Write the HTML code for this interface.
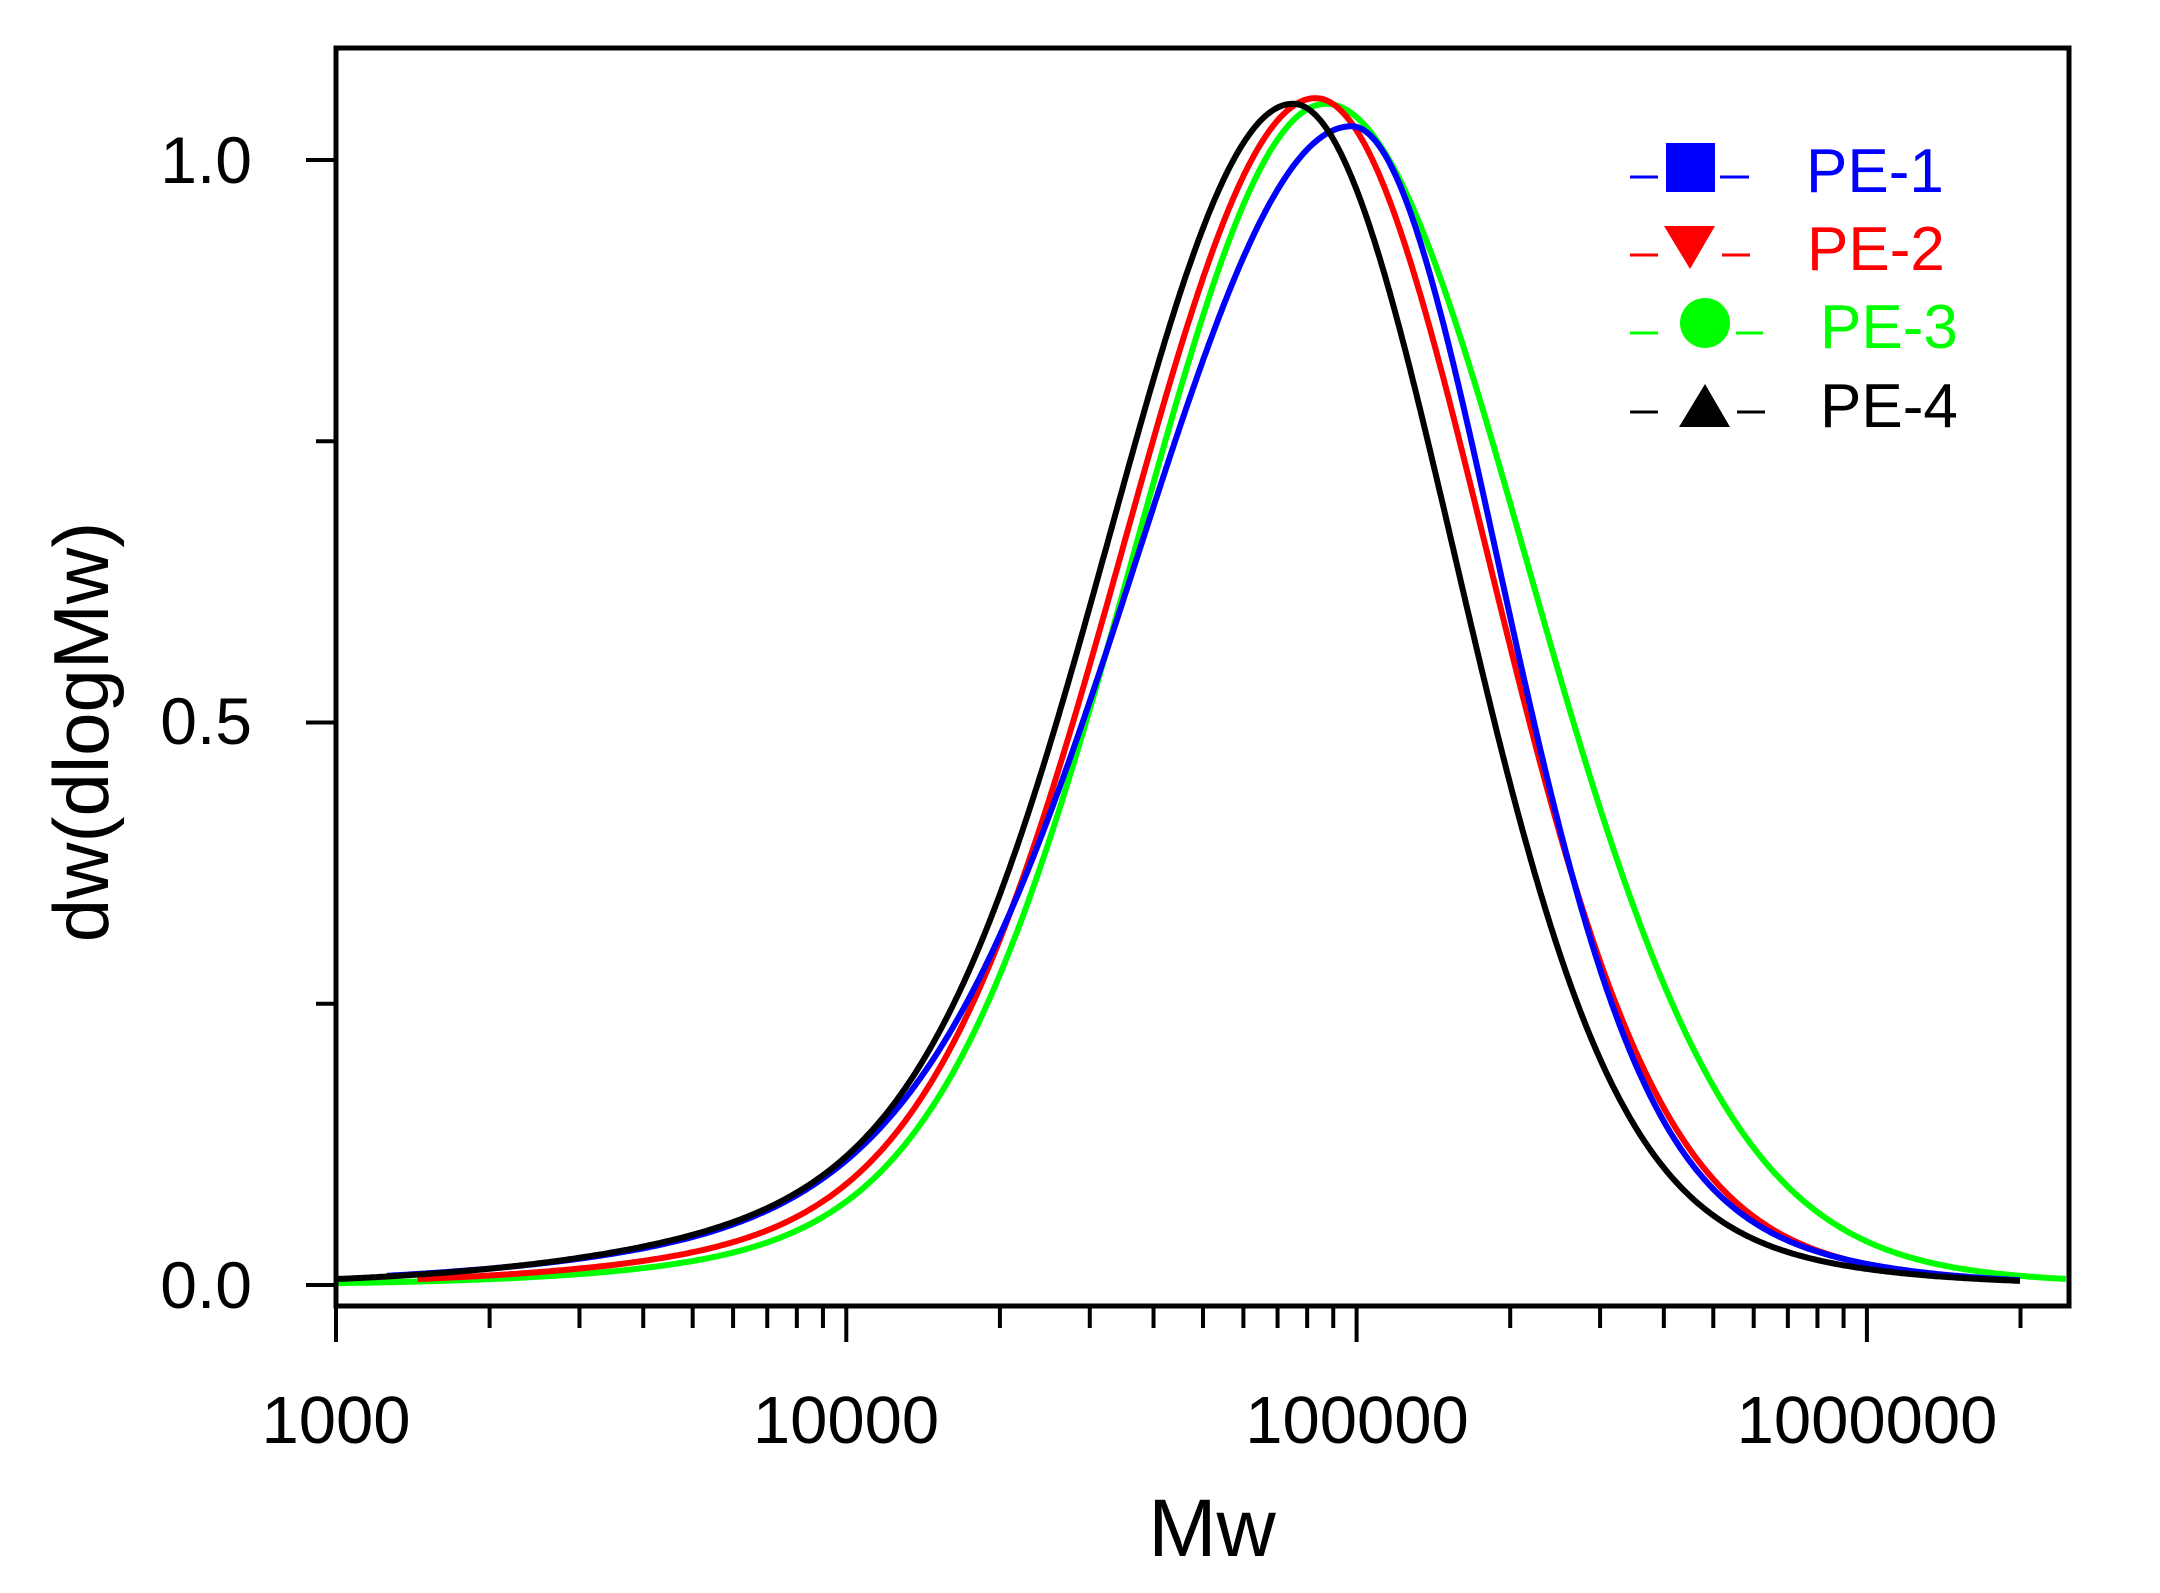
<!DOCTYPE html>
<html><head><meta charset="utf-8"><style>
html,body{margin:0;padding:0;background:#fff;}
svg text{font-family:"Liberation Sans",Arial,sans-serif;}
</style></head><body>
<svg id="s" width="2160" height="1588" xmlns="http://www.w3.org/2000/svg">
<rect width="2160" height="1588" fill="#fff"/>
<g id="curves"></g>
<rect x="336" y="48" width="1733" height="1258" fill="none" stroke="#000" stroke-width="5"/>
<g id="ticks" stroke="#000" stroke-width="4"></g>
<g font-size="66" fill="#000" text-anchor="end">
<text x="252" y="1308">0.0</text>
<text x="252" y="744">0.5</text>
<text x="252" y="183">1.0</text>
</g>
<g font-size="67" fill="#000" text-anchor="middle">
<text x="336" y="1443">1000</text>
<text x="846" y="1443">10000</text>
<text x="1357" y="1443">100000</text>
<text x="1867" y="1443">1000000</text>
</g>
<text x="1212" y="1556" font-size="82" text-anchor="middle">Mw</text>
<text transform="translate(108,732) rotate(-90)" font-size="78" text-anchor="middle">dw(dlogMw)</text>
<g stroke-width="3">
<line x1="1630" y1="177" x2="1658" y2="177" stroke="#00f"/><line x1="1720" y1="177" x2="1749" y2="177" stroke="#00f"/>
<rect x="1666" y="143" width="49" height="49" fill="#00f"/>
<line x1="1630" y1="255" x2="1658" y2="255" stroke="#f00"/><line x1="1722" y1="255" x2="1750" y2="255" stroke="#f00"/>
<polygon points="1664,226 1715,226 1690,269" fill="#f00"/>
<line x1="1630" y1="333" x2="1658" y2="333" stroke="#0f0"/><line x1="1736" y1="333" x2="1763" y2="333" stroke="#0f0"/>
<circle cx="1705" cy="323" r="25" fill="#0f0"/>
<line x1="1630" y1="412" x2="1658" y2="412" stroke="#000"/><line x1="1737" y1="412" x2="1765" y2="412" stroke="#000"/>
<polygon points="1705,384 1730,427 1679,427" fill="#000"/>
</g>
<g font-size="62">
<text x="1806" y="192" fill="#00f">PE-1</text>
<text x="1807" y="270" fill="#f00">PE-2</text>
<text x="1820" y="348" fill="#0f0">PE-3</text>
<text x="1820" y="427" fill="#000">PE-4</text>
</g>
</svg>
<script>
var NS="http://www.w3.org/2000/svg";
function X(l){return 336+(l-3)*510.3;}
function Y(v){return 1285-v*1125;}
var t=document.getElementById("ticks"),h="";
for(var d=3;d<=6;d++){for(var m=1;m<=9;m++){var l=d+Math.log10(m);var x=X(l);if(x>2069)break;var len=(m==1)?36:22;h+='<line x1="'+x+'" y1="1306" x2="'+x+'" y2="'+(1306+len)+'"/>';}}
[0,0.25,0.5,0.75,1.0].forEach(function(v){var y=Y(v);h+='<line x1="'+(336-(v*4%2==0?30:20))+'" y1="'+y+'" x2="336" y2="'+y+'"/>';});
t.innerHTML=h;
function curve(p){
 var s="";
 for(var l=p.a;l<=p.b;l+=0.005){
  var d=l-p.c,s1,s2,w;
  if(d<0){s1=p.l1;s2=p.l2;w=p.lw;}else{s1=p.r1;s2=p.r2;w=p.rw;}
  var v=p.A*((1-w)*Math.exp(-d*d/(2*s1*s1))+w*Math.exp(-d*d/(2*s2*s2)));
  s+=(s?"L":"M")+X(l).toFixed(1)+","+Y(v).toFixed(1);
 }
 var e=document.createElementNS(NS,"path");
 e.setAttribute("d",s);e.setAttribute("fill","none");e.setAttribute("stroke",p.col);e.setAttribute("stroke-width",p.sw||6);
 document.getElementById("curves").appendChild(e);
}
curve({col:"#0f0",a:3,b:6.39,c:4.94,A:1.05,l1:0.37,l2:0.68,lw:0.09,r1:0.39,r2:0.65,rw:0.05});
curve({col:"#f00",a:3.16,b:6.2,c:4.92,A:1.055,l1:0.37,l2:0.72,lw:0.1,r1:0.33,r2:0.55,rw:0.09});
curve({col:"#00f",a:3.1,b:6.3,c:4.99,A:1.03,l1:0.41,l2:0.8,lw:0.13,r1:0.28,r2:0.5,rw:0.13});
curve({col:"#000",a:3,b:6.3,c:4.875,A:1.05,l1:0.35,l2:0.72,lw:0.15,r1:0.31,r2:0.55,rw:0.1});
</script>
</body></html>
